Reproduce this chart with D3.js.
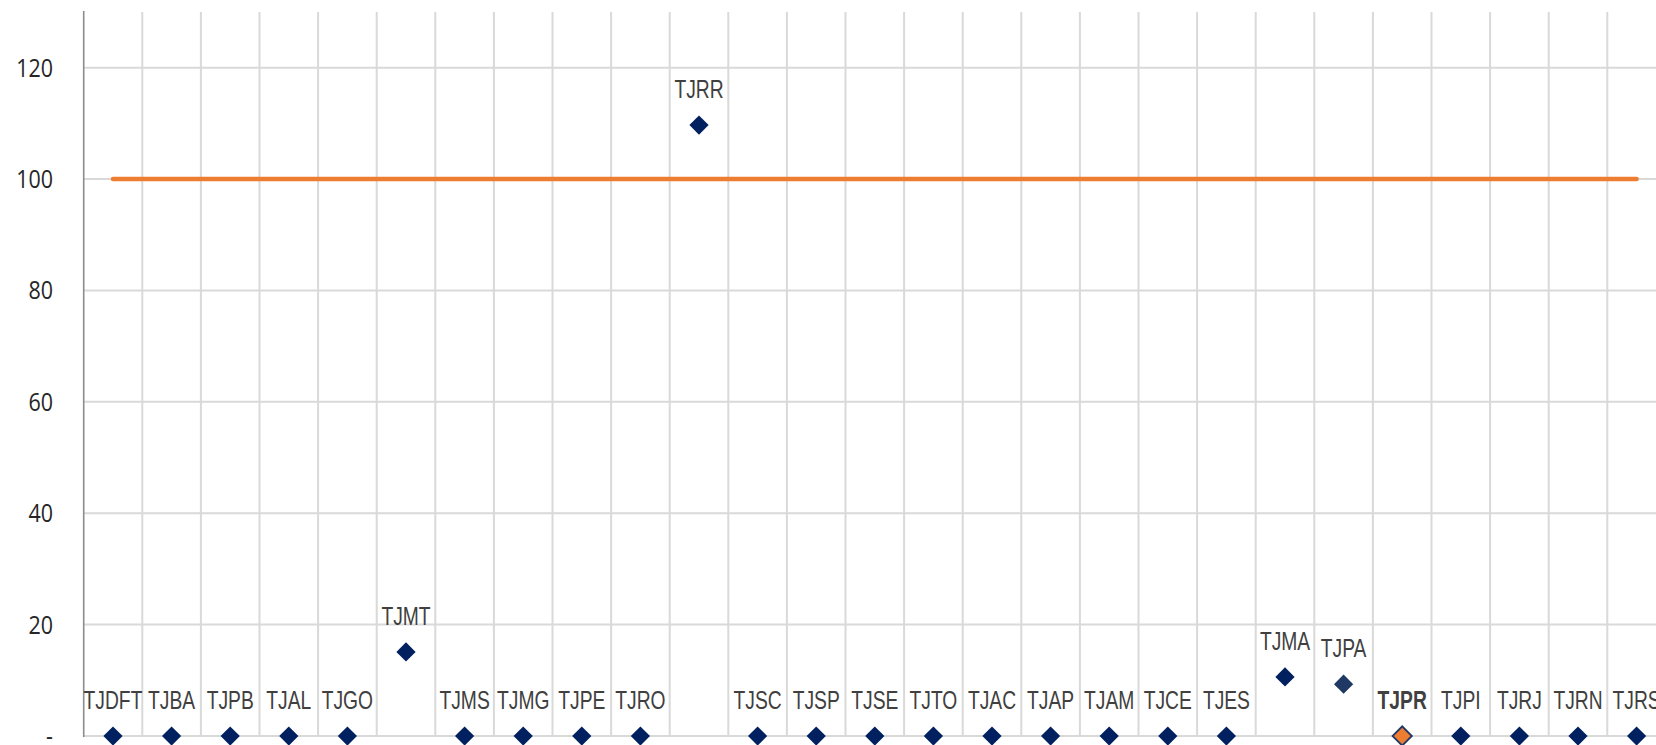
<!DOCTYPE html>
<html>
<head>
<meta charset="utf-8">
<script src="https://cdn.jsdelivr.net/npm/d3@7"></script>
<style>
  html, body { margin: 0; padding: 0; background: #ffffff; overflow: hidden; }
  svg { display: block; }
</style>
</head>
<body>
<svg id="chart" width="1656" height="745"></svg>
<script>
// ---- data ----
const categories = ["TJDFT","TJBA","TJPB","TJAL","TJGO","TJMT","TJMS","TJMG","TJPE","TJRO","TJRR","TJSC","TJSP","TJSE","TJTO","TJAC","TJAP","TJAM","TJCE","TJES","TJMA","TJPA","TJPR","TJPI","TJRJ","TJRN","TJRS"];
const values     = [0,0,0,0,0,15.1,0,0,0,0,109.7,0,0,0,0,0,0,0,0,0,10.6,9.3,0,0,0,0,0];
const targetValue = 100;
const yTicks = [0,20,40,60,80,100,120];
const yTickLabels = ["-","20","40","60","80","100","120"];
const highlight = "TJPR";

// ---- layout ----
const svg = d3.select("#chart");
const left = 83.7, band = 58.6;
const x = d3.scaleBand().domain(categories).range([left, left + band * categories.length]).padding(0);
const y = d3.scaleLinear().domain([0, 130]).range([736, 12]);
const cx = c => x(c) + x.bandwidth() / 2;

// horizontal grid
svg.append("g").selectAll("line").data(yTicks).join("line")
  .attr("x1", left).attr("x2", 1656)
  .attr("y1", d => y(d)).attr("y2", d => y(d))
  .attr("stroke", "#d9d9d9").attr("stroke-width", 2);

// vertical grid (band boundaries)
svg.append("g").selectAll("line").data(categories.slice(1)).join("line")
  .attr("x1", d => x(d)).attr("x2", d => x(d))
  .attr("y1", y(130)).attr("y2", y(0))
  .attr("stroke", "#d9d9d9").attr("stroke-width", 2);

// y axis line
svg.append("line").attr("x1", left).attr("x2", left)
  .attr("y1", y(130) - 1).attr("y2", y(0) + 1)
  .attr("stroke", "#8c8c8c").attr("stroke-width", 1.6);

// y tick labels
svg.append("g").selectAll("text").data(yTicks).join("text")
  .attr("transform", d => `translate(53,${y(d)}) scale(0.86,1)`)
  .attr("text-anchor", "end")
  .attr("dy", "0.36em")
  .attr("font-family", "'Open Sans', 'Noto Sans', sans-serif")
  .attr("font-size", 25)
  .attr("fill", "#262626")
  .text((d, i) => yTickLabels[i]);

// target line
svg.append("line")
  .attr("x1", cx(categories[0])).attr("x2", cx(categories[categories.length - 1]))
  .attr("y1", y(targetValue)).attr("y2", y(targetValue))
  .attr("stroke", "#ed7d31").attr("stroke-width", 4.5).attr("stroke-linecap", "round");

// points
const data = categories.map((c, i) => ({ c, v: values[i] }));
const diamond = d3.symbol(d3.symbolSquare, 185);
svg.append("g").selectAll("path").data(data).join("path")
  .attr("d", diamond)
  .attr("transform", d => `translate(${cx(d.c)},${y(d.v)}) rotate(45)`)
  .attr("fill", d => d.c === highlight ? "#ed7d31" : (d.c === "TJPA" ? "#203864" : "#002060"))
  .attr("stroke", d => d.c === highlight ? "#203864" : "none")
  .attr("stroke-width", 1.8);

// labels (condensed)
svg.append("g").selectAll("text").data(data).join("text")
  .attr("transform", d => `translate(${cx(d.c)},${y(d.v) - 27}) scale(0.77,1)`)
  .attr("text-anchor", "middle")
  .attr("font-family", "'Liberation Sans', Arial, sans-serif")
  .attr("font-size", 25)
  .attr("font-weight", d => d.c === highlight ? "bold" : "normal")
  .attr("fill", "#404040")
  .text(d => d.c);
</script>
</body>
</html>
